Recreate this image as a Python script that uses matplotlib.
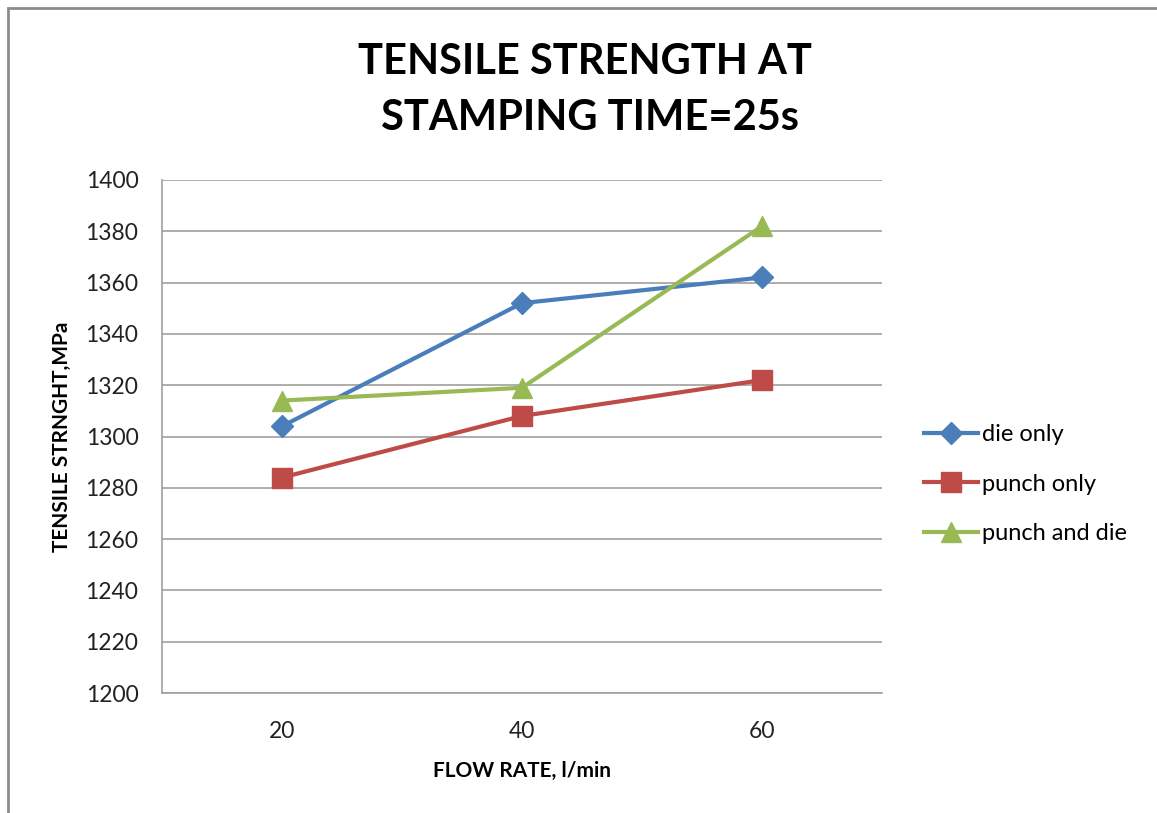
import matplotlib
matplotlib.use("Agg")
import matplotlib.pyplot as plt
from matplotlib.patches import Rectangle

# Data
flow_rates = ["20", "40", "60"]
die_only = [1304, 1352, 1362]
punch_only = [1284, 1308, 1322]
punch_and_die = [1314, 1319, 1382]
y_ticks = [1200, 1220, 1240, 1260, 1280, 1300, 1320, 1340, 1360, 1380, 1400]

plt.rcParams["font.family"] = ["Lato", "DejaVu Sans"]

fig = plt.figure(figsize=(11.57, 8.13), dpi=100)
fig.patch.set_facecolor("white")

# Outer chart frame
fig.add_artist(Rectangle((8 / 1157, -0.1), 1.2, 1 - 8 / 813 + 0.1,
                         transform=fig.transFigure, fill=False,
                         edgecolor="#8c8c8c", linewidth=2))

ax = fig.add_axes([162 / 1157, 1 - 693 / 813, 720 / 1157, 513 / 813])
x = list(range(len(flow_rates)))

ax.plot(x, die_only, color="#4A7EBB", linewidth=3, marker="D", markersize=11,
        label="die only")
ax.plot(x, punch_only, color="#BE4B48", linewidth=3, marker="s", markersize=14,
        label="punch only")
ax.plot(x, punch_and_die, color="#98B954", linewidth=3, marker="^", markersize=15,
        label="punch and die")

ax.set_xlim(-0.5, 2.5)
ax.set_ylim(1200, 1400)
ax.set_xticks(x)
ax.set_xticklabels(flow_rates)
ax.set_yticks(y_ticks)
ax.yaxis.grid(True, color="#a0a0a0", linewidth=1.2)
ax.set_axisbelow(True)
for side in ["top", "right"]:
    ax.spines[side].set_visible(False)
ax.spines["left"].set_color("#a0a0a0")
ax.spines["bottom"].set_color("#a0a0a0")
ax.spines["left"].set_linewidth(1.2)
ax.spines["bottom"].set_linewidth(1.2)
ax.tick_params(axis="both", length=0, labelsize=16.5, colors="#222222")
ax.tick_params(axis="y", pad=17)
ax.tick_params(axis="x", pad=20)

ax.set_xlabel("FLOW RATE, l/min", fontsize=15, fontweight="bold", labelpad=14)
ax.set_ylabel("TENSILE STRNGHT,MPa", fontsize=15, fontweight="bold", labelpad=10)

fig.text(585 / 1157, 1 - 90 / 813, "TENSILE STRENGTH AT\n STAMPING TIME=25s",
         ha="center", va="center", fontsize=30, fontweight="bold",
         linespacing=1.55)

ax.legend(loc="center left", bbox_to_anchor=(1.045, 0.407), frameon=False,
          fontsize=17, handlelength=2.3, handletextpad=0.15, labelspacing=1.2,
          borderaxespad=0)

fig.savefig("out.png", dpi=100, facecolor="white")
